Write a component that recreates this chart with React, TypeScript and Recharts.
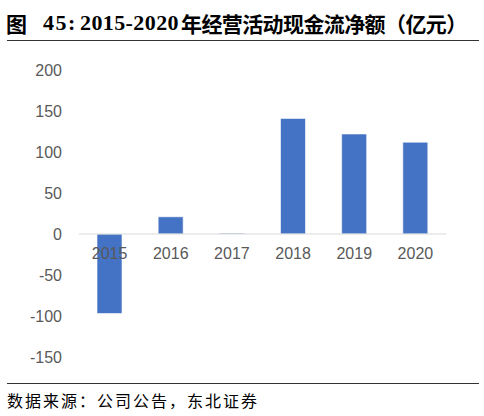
import React from 'react';
import { BarChart, Bar, XAxis, YAxis, ReferenceLine } from 'recharts';

const years = ['2015', '2016', '2017', '2018', '2019', '2020'];
const cashFlow = [-97, 21, 1, 141, 122, 112];
const yTicks = [-150, -100, -50, 0, 50, 100, 150, 200];

const Y_MIN = -150;
const Y_MAX = 200;
const W = 484;
const H = 416;
const M_TOP = 70;
const X_AXIS_H = 30;
const M_BOTTOM = 29;
const PLOT_H = H - M_TOP - M_BOTTOM - X_AXIS_H;
const ZERO_FROM_BOTTOM = (PLOT_H * (0 - Y_MIN)) / (Y_MAX - Y_MIN);

const data = years.map((y, i) => ({ year: y, value: cashFlow[i] }));

const renderXTick = (props: any) => {
  const { x, y, payload } = props;
  return (
    <text
      key={payload.value}
      x={x}
      y={y - ZERO_FROM_BOTTOM}
      dy="0.71em"
      textAnchor="middle"
      fill="#595959"
      fontSize={16}
      fontFamily="'Liberation Sans', Arial, sans-serif"
    >
      {payload.value}
    </text>
  );
};

const titleCjk = { fontFamily: "'Noto Sans CJK SC', sans-serif", fontWeight: 700, fontSize: 21 } as const;
const titleNum = { fontFamily: "'Liberation Serif', serif", fontWeight: 700, fontSize: 22 } as const;

export default function App() {
  return (
    <div style={{ position: 'absolute', left: 0, top: 0, width: W, height: H, background: '#fff', color: '#000' }}>
      <div style={{ position: 'absolute', left: 0, top: 9, width: W, height: 28, lineHeight: '28px', whiteSpace: 'nowrap' }}>
        <span style={{ ...titleCjk, position: 'absolute', left: 6 }}>图</span>
        <span style={{ ...titleNum, position: 'absolute', left: 43, letterSpacing: 1.5 }}>45:</span>
        <span style={{ ...titleNum, position: 'absolute', left: 80, letterSpacing: 0.4 }}>2015-2020</span>
        <span style={{ ...titleCjk, position: 'absolute', left: 181, letterSpacing: -0.6 }}>年经营活动现金流净额（亿元）</span>
      </div>
      <div style={{ position: 'absolute', left: 7, top: 40, width: 472, height: 1, background: '#333' }} />
      <div style={{ position: 'absolute', left: 0, top: 0 }}>
        <BarChart width={W} height={H} data={data} margin={{ top: M_TOP, right: 38, bottom: M_BOTTOM, left: 19 }}>
          <YAxis
            type="number"
            domain={[Y_MIN, Y_MAX]}
            ticks={yTicks}
            width={60}
            axisLine={false}
            tickLine={false}
            tickSize={0}
            tickMargin={17}
            interval={0}
            tick={{ fill: '#595959', fontSize: 16, fontFamily: "'Liberation Sans', Arial, sans-serif" }}
          />
          <ReferenceLine y={0} stroke="#d9d9d9" strokeWidth={1} />
          <Bar dataKey="value" fill="#4472C4" stroke="#ffffff" strokeWidth={0.6} barSize={25} isAnimationActive={false} />
          <XAxis
            dataKey="year"
            axisLine={false}
            tickLine={false}
            tickSize={0}
            tickMargin={14}
            height={X_AXIS_H}
            interval={0}
            tick={renderXTick}
          />
        </BarChart>
      </div>
      <div style={{ position: 'absolute', left: 7, top: 383, width: 472, height: 1, background: '#333' }} />
      <div
        style={{
          position: 'absolute',
          left: 7,
          top: 390,
          fontSize: 16,
          fontFamily: "'Noto Sans CJK SC', sans-serif",
          whiteSpace: 'nowrap',
          lineHeight: '20px',
          letterSpacing: 2,
        }}
      >
        数据来源：公司公告，东北证券
      </div>
    </div>
  );
}
